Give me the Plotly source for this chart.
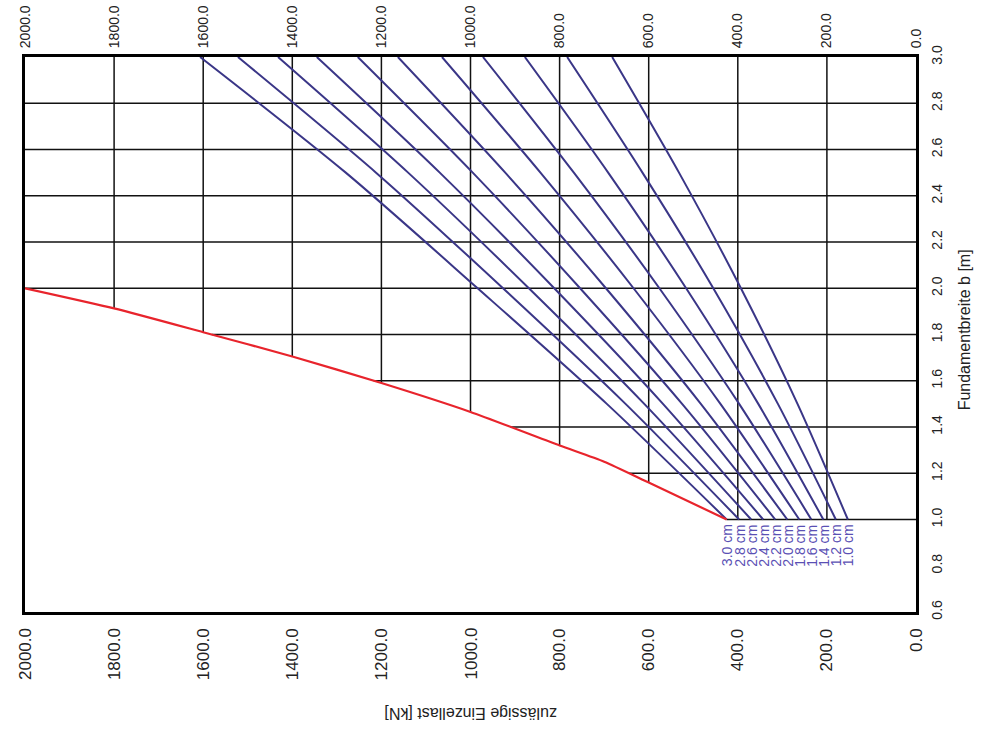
import numpy as np
import plotly.graph_objects as go

# ---------------- data ----------------
width_b = [1.0, 1.5, 2.0, 2.5, 3.0]          # Fundamentbreite b [m]
thickness_labels = ["3.0 cm", "2.8 cm", "2.6 cm", "2.4 cm", "2.2 cm", "2.0 cm",
                    "1.8 cm", "1.6 cm", "1.4 cm", "1.2 cm", "1.0 cm"]
load_30 = [425, 694, 984, 1280, 1607]
load_28 = [397, 652, 927, 1212, 1522]
load_26 = [370, 610, 869, 1140, 1432]
load_24 = [343, 568, 812, 1069, 1345]
load_22 = [316, 525, 754, 995, 1253]
load_20 = [289, 483, 696, 922, 1163]
load_18 = [262, 439, 634, 843, 1064]
load_16 = [235, 397, 576, 768, 972]
load_14 = [208, 354, 516, 691, 878]
load_12 = [180, 310, 455, 614, 783]
load_10 = [153, 266, 393, 532, 682]
series_loads = [load_30, load_28, load_26, load_24, load_22, load_20,
                load_18, load_16, load_14, load_12, load_10]

limit_load = [2000, 1800, 1600, 1400, 1200, 1000, 800, 700, 600, 425]
limit_b = [2.0, 1.913, 1.81, 1.705, 1.59, 1.465, 1.32, 1.25, 1.16, 1.0]

x_ticks = [0, 200, 400, 600, 800, 1000, 1200, 1400, 1600, 1800, 2000]
x_tick_text = ["0.0", "200.0", "400.0", "600.0", "800.0", "1000.0", "1200.0",
               "1400.0", "1600.0", "1800.0", "2000.0"]
y_ticks = [0.6, 0.8, 1.0, 1.2, 1.4, 1.6, 1.8, 2.0, 2.2, 2.4, 2.6, 2.8, 3.0]
y_tick_text = ["0.6", "0.8", "1.0", "1.2", "1.4", "1.6", "1.8", "2.0",
               "2.2", "2.4", "2.6", "2.8", "3.0"]

# ---------------- styles ----------------
FONT = "Liberation Sans, Arial, sans-serif"
BLUE = "#3a3687"
RED = "#e8242c"
LABEL = "#5a50b4"
TXT = "#222222"

fig = go.Figure()

# grid drawn only above the limit curve
lim_b_asc = limit_b[::-1]
lim_load_asc = limit_load[::-1]
shapes = []
for xv in x_ticks[1:-1]:
    b_lo = float(np.interp(xv, lim_load_asc, lim_b_asc))
    shapes.append(dict(type="line", xref="x", yref="y", x0=xv, x1=xv, y0=b_lo, y1=3.0,
                       line=dict(color="#111111", width=1.5), layer="below"))
for yv in y_ticks:
    if yv < 1.0 - 1e-9 or yv > 2.9:
        continue
    x_hi = float(np.interp(yv, lim_b_asc, lim_load_asc))
    shapes.append(dict(type="line", xref="x", yref="y", x0=x_hi, x1=0, y0=yv, y1=yv,
                       line=dict(color="#111111", width=1.5), layer="below"))

for lbl, ld in zip(thickness_labels, series_loads):
    fig.add_trace(go.Scatter(x=ld, y=width_b, mode="lines", name=lbl,
                             line=dict(color=BLUE, width=2, shape="spline", smoothing=0.8),
                             showlegend=False, hoverinfo="skip"))

fig.add_trace(go.Scatter(x=limit_load, y=limit_b, mode="lines", name="Grenze",
                         line=dict(color=RED, width=2.2, shape="spline", smoothing=0.6),
                         showlegend=False, hoverinfo="skip"))

annotations = []
for lbl, ld in zip(thickness_labels, series_loads):
    annotations.append(dict(x=ld[0], y=1.0, xref="x", yref="y", text=lbl, showarrow=False,
                            textangle=-90, xanchor="center", yanchor="top", yshift=-3,
                            font=dict(family=FONT, size=14, color=LABEL)))
for xv, tt in zip(x_ticks, x_tick_text):
    annotations.append(dict(x=xv, y=0, xref="x", yref="paper", text=tt, showarrow=False,
                            textangle=-90, xanchor="center", yanchor="top", yshift=-14,
                            font=dict(family=FONT, size=17, color=TXT)))
annotations.append(dict(x=0.4994, y=-0.203, xref="paper", yref="paper",
                        text="zulässige Einzellast [kN]", showarrow=False, textangle=180,
                        font=dict(family=FONT, size=16, color=TXT)))
annotations.append(dict(x=1.066, y=0.508, xref="paper", yref="paper",
                        text="Fundamentbreite b [m]", showarrow=False, textangle=-90,
                        font=dict(family=FONT, size=16, color=TXT)))

fig.update_layout(
    width=986, height=731,
    margin=dict(l=25, r=70, t=57, b=119, autoexpand=False),
    paper_bgcolor="white", plot_bgcolor="white",
    shapes=shapes, annotations=annotations,
    xaxis=dict(range=[2000, 0], side="top", tickvals=x_ticks, ticktext=x_tick_text,
               tickangle=-90, showgrid=False, zeroline=False, automargin=False,
               showline=True, linecolor="black", linewidth=3, mirror=True,
               ticks="outside", ticklen=3, tickcolor="rgba(0,0,0,0)",
               tickfont=dict(family=FONT, size=14, color=TXT)),
    yaxis=dict(range=[0.6, 3.0], side="right", tickvals=y_ticks, ticktext=y_tick_text,
               tickangle=-90, showgrid=False, zeroline=False, automargin=False,
               showline=True, linecolor="black", linewidth=3, mirror=True,
               ticks="outside", ticklen=6, tickcolor="rgba(0,0,0,0)",
               tickfont=dict(family=FONT, size=14, color=TXT)),
)

fig.write_html("out.html", config={"displayModeBar": False},
               post_script="document.body.style.margin='0';document.body.style.overflow='hidden';")
